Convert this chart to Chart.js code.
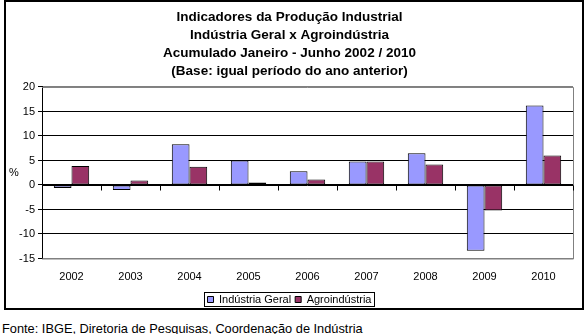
<!DOCTYPE html>
<html>
<head>
<meta charset="utf-8">
<script src="https://cdn.jsdelivr.net/npm/chart.js@4"></script>
<style>
  body { margin: 0; background: #fff; font-family: "Liberation Sans", Arial, sans-serif; }
  #frame { position: absolute; left: 4px; top: 0; width: 576px; height: 306px; border: 2px solid #000; overflow: hidden; }
  #fonte { position: absolute; left: 2px; top: 321px; font-size: 12.8px; color: #000; white-space: nowrap; }
</style>
</head>
<body>
<div id="frame"><canvas id="chart" width="576" height="313"></canvas></div>
<div id="fonte">Fonte: IBGE, Diretoria de Pesquisas, Coordenação de Indústria</div>
<script>
// Variação acumulada jan-jun (%) por ano
const anos = ['2002', '2003', '2004', '2005', '2006', '2007', '2008', '2009', '2010'];
const industriaGeral = [-0.6, -1.0, 8.3, 5.0, 2.8, 4.8, 6.5, -13.4, 16.2];
const agroindustria = [3.9, 0.9, 3.7, 0.5, 1.1, 4.8, 4.2, -5.2, 6.0];
const titulo = [
    'Indicadores da Produção Industrial',
    'Indústria Geral x Agroindústria',
    'Acumulado Janeiro - Junho 2002 / 2010',
    '(Base: igual período do ano anterior)'
];

const fonte = '"Liberation Sans", Arial, sans-serif';

// Borda cinza da área do gráfico, marcas no eixo zero, "%" e moldura da legenda
const extras = {
    id: 'extras',
    beforeDatasetsDraw(chart) {
        const { ctx, chartArea } = chart;
        ctx.save();
        ctx.strokeStyle = '#808080';
        ctx.lineWidth = 1;
        ctx.beginPath();
        ctx.moveTo(chartArea.left, chartArea.top + 0.5);
        ctx.lineTo(chartArea.right + 0.5, chartArea.top + 0.5);
        ctx.lineTo(chartArea.right + 0.5, chartArea.bottom + 0.5);
        ctx.lineTo(chartArea.left, chartArea.bottom + 0.5);
        ctx.stroke();
        ctx.restore();
    },
    afterDraw(chart) {
        const { ctx, chartArea, scales } = chart;
        const x = scales.x, y = scales.y;
        const y0 = Math.round(y.getPixelForValue(0)) + 0.5;
        const passo = x.getPixelForValue(1) - x.getPixelForValue(0);
        ctx.save();
        ctx.strokeStyle = '#000';
        ctx.lineWidth = 1;
        ctx.beginPath();
        ctx.moveTo(chartArea.left, y0);
        ctx.lineTo(chartArea.right, y0);
        for (let i = 0; i <= anos.length; i++) {
            const px = Math.round(x.getPixelForValue(i) - passo / 2) + 0.5;
            ctx.moveTo(px, y0);
            ctx.lineTo(px, y0 + 5);
        }
        ctx.stroke();

        ctx.fillStyle = '#000';
        ctx.font = '11px ' + fonte;
        ctx.textAlign = 'left';
        ctx.textBaseline = 'middle';
        ctx.fillText('%', 3, y.getPixelForValue(2.5));

        const caixas = chart.legend.legendHitBoxes;
        if (caixas && caixas.length) {
            let l = Infinity, r = -Infinity, t = Infinity, b = -Infinity;
            caixas.forEach(h => {
                l = Math.min(l, h.left); r = Math.max(r, h.left + h.width);
                t = Math.min(t, h.top); b = Math.max(b, h.top + h.height);
            });
            ctx.strokeRect(Math.round(l - 4) + 0.5, Math.round(t - 2) + 0.5,
                Math.round(r - l + 6), Math.round(b - t + 3));
        }
        ctx.restore();
    }
};

new Chart(document.getElementById('chart'), {
    type: 'bar',
    data: {
        labels: anos,
        datasets: [{
            label: 'Indústria Geral',
            data: industriaGeral,
            backgroundColor: '#9999FF',
            borderColor: '#000',
            borderWidth: 1,
            borderSkipped: false
        }, {
            label: 'Agroindústria',
            data: agroindustria,
            backgroundColor: '#993366',
            borderColor: '#000',
            borderWidth: 1,
            borderSkipped: false
        }]
    },
    options: {
        responsive: false,
        animation: false,
        layout: { padding: { left: 0, right: 9, top: 0, bottom: 0 } },
        datasets: { bar: { categoryPercentage: 0.6, barPercentage: 1 } },
        plugins: {
            title: {
                display: true,
                text: titulo,
                color: '#000',
                font: { family: fonte, size: 13.5, weight: 'bold', lineHeight: 1.333 },
                padding: { top: 6.5, bottom: 6.5 }
            },
            legend: {
                position: 'bottom',
                labels: {
                    color: '#000',
                    font: { family: fonte, size: 11 },
                    boxWidth: 6,
                    boxHeight: 6,
                    padding: 4,
                    generateLabels(chart) {
                        return chart.data.datasets.map((ds, i) => ({
                            text: ds.label,
                            fillStyle: ds.backgroundColor,
                            strokeStyle: '#000',
                            lineWidth: 1,
                            fontColor: '#000',
                            datasetIndex: i
                        }));
                    }
                }
            },
            tooltip: { enabled: false }
        },
        scales: {
            x: {
                afterFit(scale) { scale.height = 31.5; },
                grid: { display: false, drawTicks: false },
                border: { display: false },
                ticks: { color: '#000', font: { family: fonte, size: 11 }, padding: 12, maxRotation: 0 }
            },
            y: {
                min: -15,
                max: 20,
                afterFit(scale) { scale.width = 36; },
                ticks: { stepSize: 5, color: '#000', font: { family: fonte, size: 11 }, padding: 3 },
                border: { display: true, color: '#000', width: 1 },
                grid: {
                    color: c => (c.tick.value === 20 || c.tick.value === -15) ? '#808080' : '#000',
                    tickColor: '#000',
                    tickLength: 4
                }
            }
        }
    },
    plugins: [extras]
});
</script>
</body>
</html>
